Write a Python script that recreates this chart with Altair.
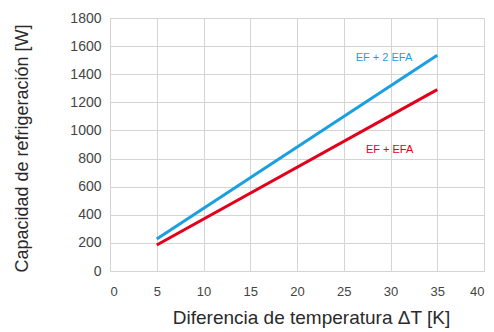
import altair as alt
import pandas as pd

dt = [5, 35]
ef_2efa = [228, 1535]
ef_efa = [185, 1290]
series_names = ["EF + 2 EFA", "EF + EFA"]
colors = ["#1a9fe0", "#e2001a"]

rows = []
for name, vals in zip(series_names, [ef_2efa, ef_efa]):
    for x, y in zip(dt, vals):
        rows.append({"dt": x, "q": y, "serie": name})
df = pd.DataFrame(rows)

lab = pd.DataFrame({
    "dt": [29.3, 29.9],
    "q": [1515, 861],
    "serie": series_names,
})

x_ticks = [0, 5, 10, 15, 20, 25, 30, 35, 40]
y_ticks = [0, 200, 400, 600, 800, 1000, 1200, 1400, 1600, 1800]

font = "Liberation Sans"
xscale = alt.Scale(domain=[0, 40], nice=False)
yscale = alt.Scale(domain=[0, 1800], nice=False)
cscale = alt.Scale(domain=series_names, range=colors)

xaxis = alt.Axis(title="Diferencia de temperatura ΔT [K]", values=x_ticks,
                 format="d", labelOverlap=False,
                 titleFontSize=19, titleFontWeight="normal", titleColor="#2a2a2a",
                 titlePadding=10, titleX=201,
                 labelFontSize=13, labelColor="#444", labelPadding=14,
                 ticks=False, domain=False, grid=True, gridColor="#d4d4d4")
yaxis = alt.Axis(title="Capacidad de refrigeración [W]", values=y_ticks,
                 format="d", labelOverlap=False,
                 titleFontSize=18, titleFontWeight="normal", titleColor="#2a2a2a",
                 titlePadding=38, titleY=130,
                 labelFontSize=14, labelColor="#444", labelPadding=9,
                 ticks=False, domain=False, grid=True, gridColor="#d4d4d4")

lines = alt.Chart(df).mark_line(strokeWidth=3).encode(
    x=alt.X("dt:Q", scale=xscale, axis=xaxis),
    y=alt.Y("q:Q", scale=yscale, axis=yaxis),
    color=alt.Color("serie:N", scale=cscale, legend=None),
    detail="serie:N",
)

labels = alt.Chart(lab).mark_text(fontSize=11, font=font, align="center", baseline="middle").encode(
    x=alt.X("dt:Q", scale=xscale, axis=xaxis),
    y=alt.Y("q:Q", scale=yscale, axis=yaxis),
    text="serie:N",
    color=alt.Color("serie:N", scale=cscale, legend=None),
)

chart = alt.layer(lines, labels).properties(
    width=374, height=253,
    autosize=alt.AutoSizeParams(type="none"),
    padding={"left": 102, "top": 10, "right": 2, "bottom": 62},
).configure_axis(
    labelFont=font, titleFont=font,
).configure_view(stroke="#d4d4d4", strokeWidth=1)

chart.save("out.html", embed_options={"renderer": "svg", "actions": False})
